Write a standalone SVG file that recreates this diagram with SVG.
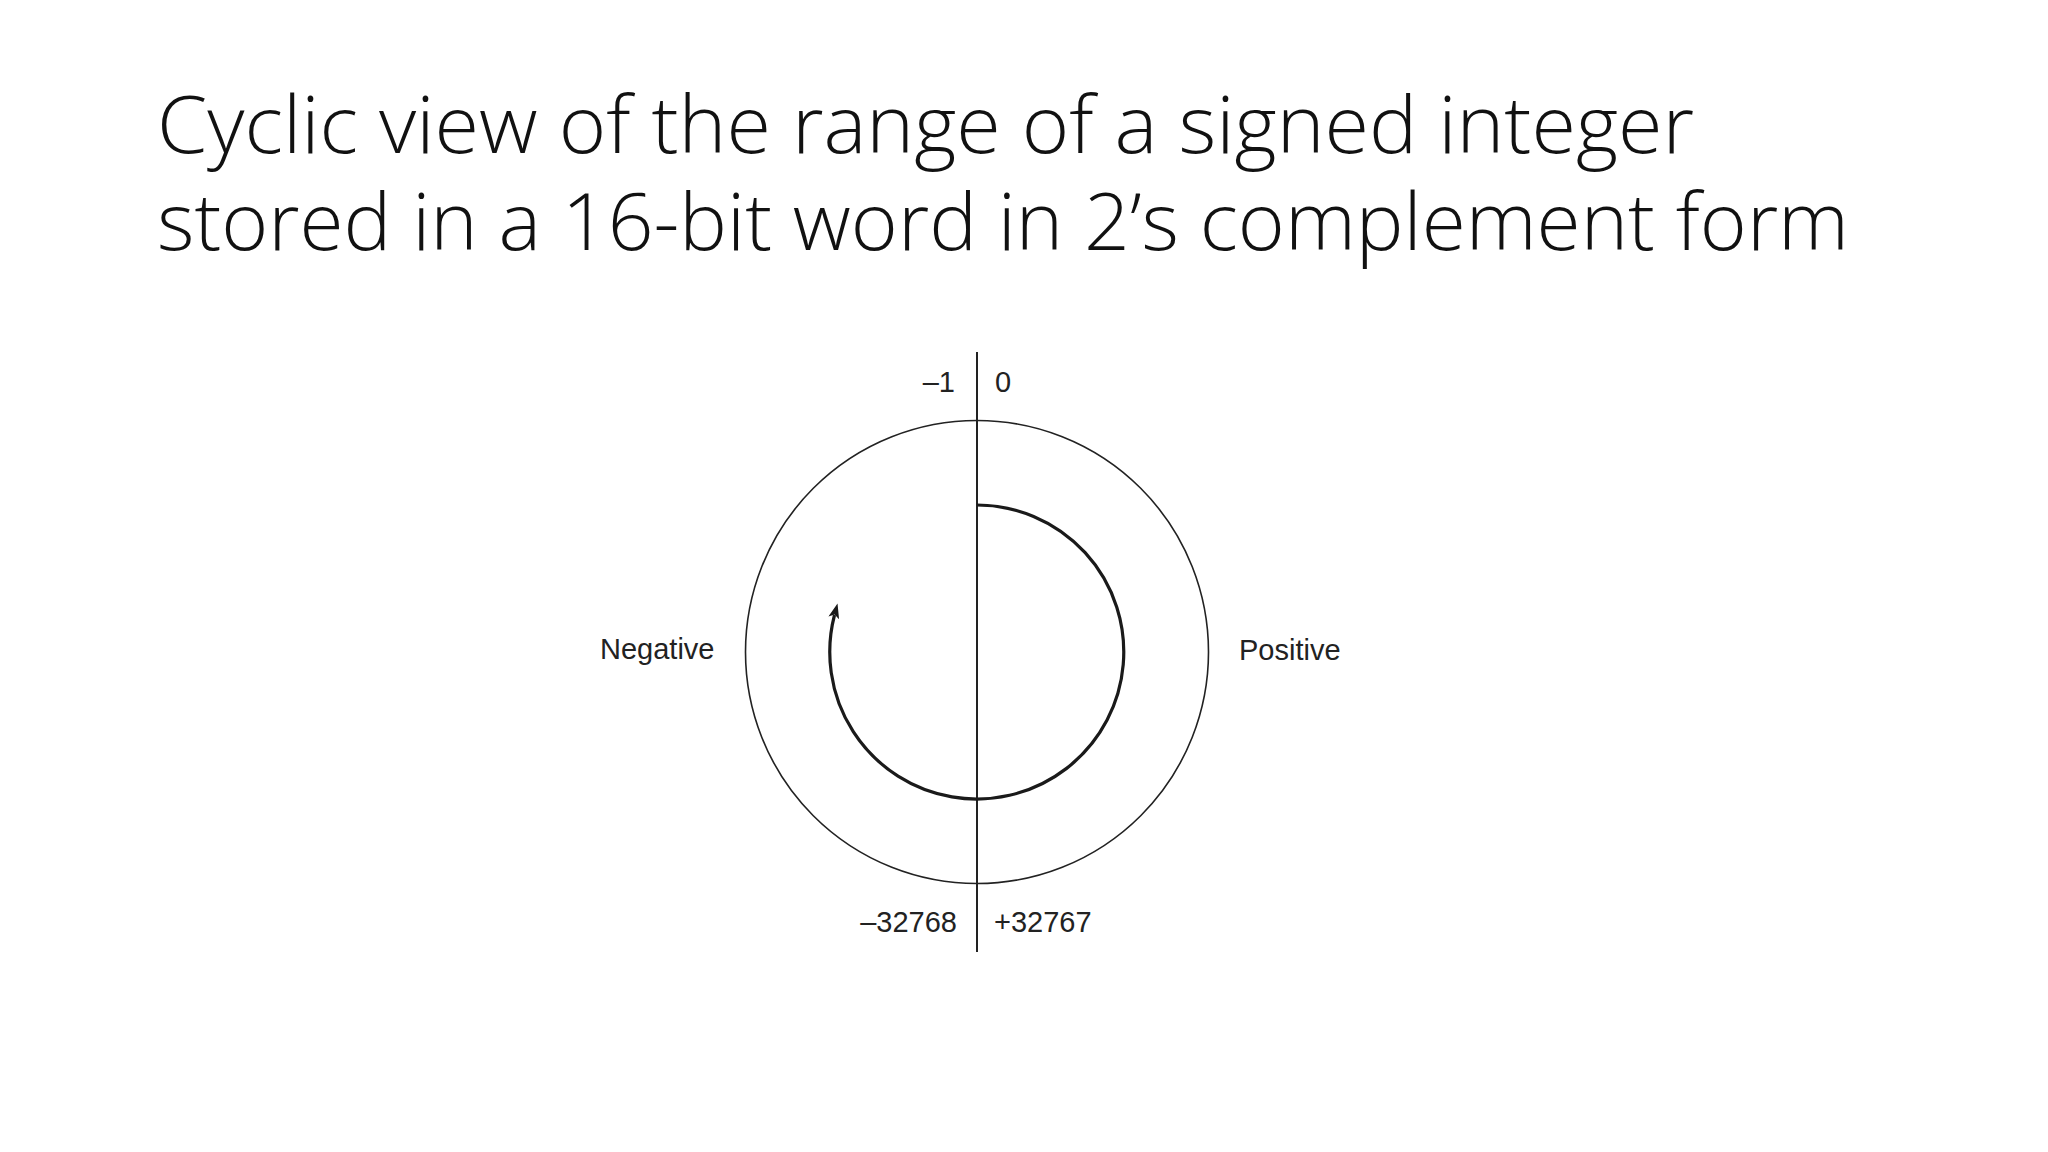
<svg xmlns="http://www.w3.org/2000/svg" width="2048" height="1152" viewBox="0 0 2048 1152">
<style>
.title{font-family:"Open Sans","Liberation Sans",sans-serif;font-weight:300;font-size:80px;fill:#111}
.lbl{font-family:"Liberation Sans",Arial,sans-serif;font-size:29px;fill:#222}
.thin{fill:none;stroke:#222;stroke-width:1.6}
.axis{fill:none;stroke:#222;stroke-width:2}
.thick{fill:none;stroke:#1a1a1a;stroke-width:3.2}
</style>
<defs>
<marker id="ah" viewBox="0 0 15 11" refX="3" refY="5.5" markerWidth="15" markerHeight="11" markerUnits="userSpaceOnUse" orient="auto">
<path d="M0,0 L15,5.5 L0,11 L3.5,5.5 Z" fill="#1a1a1a"/>
</marker>
</defs>
<rect width="2048" height="1152" fill="#fff"/>
<g id="title">
<text class="title" x="157" y="153" textLength="1537" lengthAdjust="spacingAndGlyphs">Cyclic view of the range of a signed integer</text>
<text class="title" x="157" y="250" textLength="1692" lengthAdjust="spacingAndGlyphs">stored in a 16-bit word in 2’s complement form</text>
</g>
<g id="outer-circle">
<circle class="thin" cx="977" cy="652" r="231.5"/>
</g>
<g id="connectors">
<line class="axis" x1="977" y1="352" x2="977" y2="952"/>
<path id="cycle-arrow" class="thick" d="M977 505 A147 147 0 1 1 834.5 615" marker-end="url(#ah)"/>
</g>
<g id="label-minus1"><text class="lbl" x="955" y="392" text-anchor="end">–1</text></g>
<g id="label-0"><text class="lbl" x="995" y="392">0</text></g>
<g id="label-negative"><text class="lbl" x="600" y="659">Negative</text></g>
<g id="label-positive"><text class="lbl" x="1239" y="660">Positive</text></g>
<g id="label-min"><text class="lbl" x="957" y="932" text-anchor="end">–32768</text></g>
<g id="label-max"><text class="lbl" x="994" y="932">+32767</text></g>
</svg>
